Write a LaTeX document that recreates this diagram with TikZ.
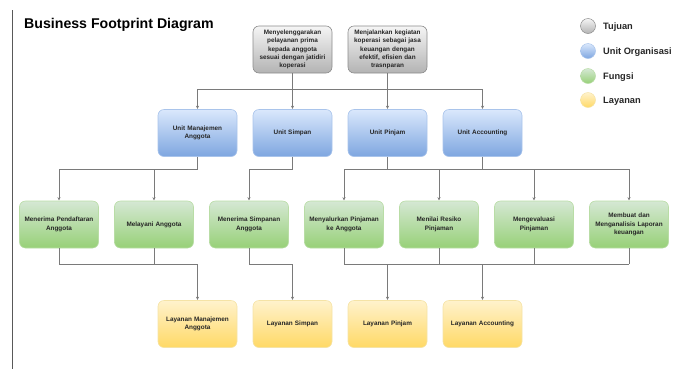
\documentclass[tikz,border=0pt]{standalone}
\usepackage{fontspec}
\setmainfont{Liberation Sans}
\usetikzlibrary{arrows.meta}
\definecolor{grayTop}{HTML}{F5F5F5}
\definecolor{grayBot}{HTML}{B3B3B3}
\definecolor{grayLine}{HTML}{8C8C8C}
\definecolor{blueTop}{HTML}{DAE8FC}
\definecolor{blueBot}{HTML}{7EA6E0}
\definecolor{blueLine}{HTML}{A9C4EB}
\definecolor{greenTop}{HTML}{D5E8D4}
\definecolor{greenBot}{HTML}{97D077}
\definecolor{greenLine}{HTML}{B9DDA6}
\definecolor{yelTop}{HTML}{FFF2CC}
\definecolor{yelBot}{HTML}{FFD966}
\definecolor{yelLine}{HTML}{F5E3A6}
\definecolor{wire}{HTML}{7A7A7A}
\tikzset{
  box/.style={rounded corners=6bp, minimum width=79bp, minimum height=47bp,
    text width=78bp, align=center, inner sep=0.5bp, line width=0.6bp,
    font=\fontsize{6.4}{8.4}\selectfont\bfseries, text=black!85},
  tujuan/.style={box, draw=grayLine, top color=grayTop, bottom color=grayBot},
  unitbox/.style={box, draw=blueLine, top color=blueTop, bottom color=blueBot},
  fungsi/.style={box, draw=greenLine, top color=greenTop, bottom color=greenBot},
  layanan/.style={box, draw=yelLine, top color=yelTop, bottom color=yelBot},
  dot/.style={circle, minimum size=15bp, inner sep=0pt, line width=0.5bp},
  legtext/.style={anchor=west, font=\fontsize{9.3}{11}\selectfont\bfseries, text=black!85, inner sep=0pt},
  ln/.style={draw=wire, line width=0.8bp},
  arr/.style={ln, -{Stealth[length=3.2bp,width=3bp]}, shorten >=0.3bp},
}
\begin{document}
\begin{tikzpicture}[x=1bp,y=-1bp]
\useasboundingbox (0,0) rectangle (675,369);

% left rule and title
\draw[draw=black!65, line width=1bp] (12,10) -- (12,369);
\node[anchor=west, inner sep=0pt, font=\fontsize{14.2}{16}\selectfont\bfseries] (title) at (24,25) {Business Footprint Diagram};

% goals
\node[tujuan] (g1) at (292.5,49.5) {Menyelenggarakan\\pelayanan prima\\kepada anggota\\sesuai dengan jatidiri\\koperasi};
\node[tujuan] (g2) at (387.5,49.5) {Menjalankan kegiatan\\koperasi sebagai jasa\\keuangan dengan\\efektif, efisien dan\\trasnparan};

% organisational units
\node[unitbox] (u1) at (197.5,133) {Unit Manajemen\\Anggota};
\node[unitbox] (u2) at (292.5,133) {Unit Simpan};
\node[unitbox] (u3) at (387.5,133) {Unit Pinjam};
\node[unitbox] (u4) at (482.5,133) {Unit Accounting};

% functions
\node[fungsi] (f1) at (59,224.5) {Menerima Pendaftaran\\Anggota};
\node[fungsi] (f2) at (154,224.5) {Melayani Anggota};
\node[fungsi] (f3) at (249,224.5) {Menerima Simpanan\\Anggota};
\node[fungsi] (f4) at (344,224.5) {Menyalurkan Pinjaman\\ke Anggota};
\node[fungsi] (f5) at (439,224.5) {Menilai Resiko\\Pinjaman};
\node[fungsi] (f6) at (534,224.5) {Mengevaluasi\\Pinjaman};
\node[fungsi] (f7) at (629,224.5) {Membuat dan\\Menganalisis Laporan\\keuangan};

% services
\node[layanan] (l1) at (197.5,324) {Layanan Manajemen\\Anggota};
\node[layanan] (l2) at (292.5,324) {Layanan Simpan};
\node[layanan] (l3) at (387.5,324) {Layanan Pinjam};
\node[layanan] (l4) at (482.5,324) {Layanan Accounting};

% bus levels
\coordinate (b1) at (0,89);
\coordinate (b2) at (0,169);
\coordinate (b3) at (0,264);

% goals -> units
\draw[ln] (u1.north|-b1) -- (u4.north|-b1);
\draw[ln] (g1.south) -- (g1.south|-b1);
\draw[ln] (g2.south) -- (g2.south|-b1);
\foreach \u in {u1,u2,u3,u4} \draw[arr] (\u.north|-b1) -- (\u.north);

% units -> functions
\draw[ln] (u1.south) -- (u1.south|-b2) -- (f1.north|-b2);
\draw[arr] (f1.north|-b2) -- (f1.north);
\draw[arr] (f2.north|-b2) -- (f2.north);
\draw[arr] (u2.south) -- (u2.south|-b2) -| (f3.north);
\draw[ln] (f4.north|-b2) -- (f7.north|-b2);
\draw[ln] (u3.south) -- (u3.south|-b2);
\draw[ln] (u4.south) -- (u4.south|-b2);
\foreach \f in {f4,f5,f6,f7} \draw[arr] (\f.north|-b2) -- (\f.north);

% functions -> services
\draw[ln] (f1.south) -- (f1.south|-b3) -- (l1.north|-b3);
\draw[ln] (f2.south) -- (f2.south|-b3);
\draw[arr] (l1.north|-b3) -- (l1.north);
\draw[arr] (f3.south) -- (f3.south|-b3) -| (l2.north);
\draw[ln] (f4.south|-b3) -- (f7.south|-b3);
\foreach \f in {f4,f5,f6,f7} \draw[ln] (\f.south) -- (\f.south|-b3);
\draw[arr] (l3.north|-b3) -- (l3.north);
\draw[arr] (l4.north|-b3) -- (l4.north);

% legend
\node[dot, draw=grayLine, top color=grayTop, bottom color=grayBot] (k1) at (588,26) {};
\node[dot, draw=blueLine, top color=blueTop, bottom color=blueBot] (k2) at (588,51) {};
\node[dot, draw=greenLine, top color=greenTop, bottom color=greenBot] (k3) at (588,76) {};
\node[dot, draw=yelLine, top color=yelTop, bottom color=yelBot] (k4) at (588,100) {};
\node[legtext] (t1) at (603,27) {Tujuan};
\node[legtext] (t2) at (603,52) {Unit Organisasi};
\node[legtext] (t3) at (603,77) {Fungsi};
\node[legtext] (t4) at (603,101) {Layanan};
\end{tikzpicture}
\end{document}
